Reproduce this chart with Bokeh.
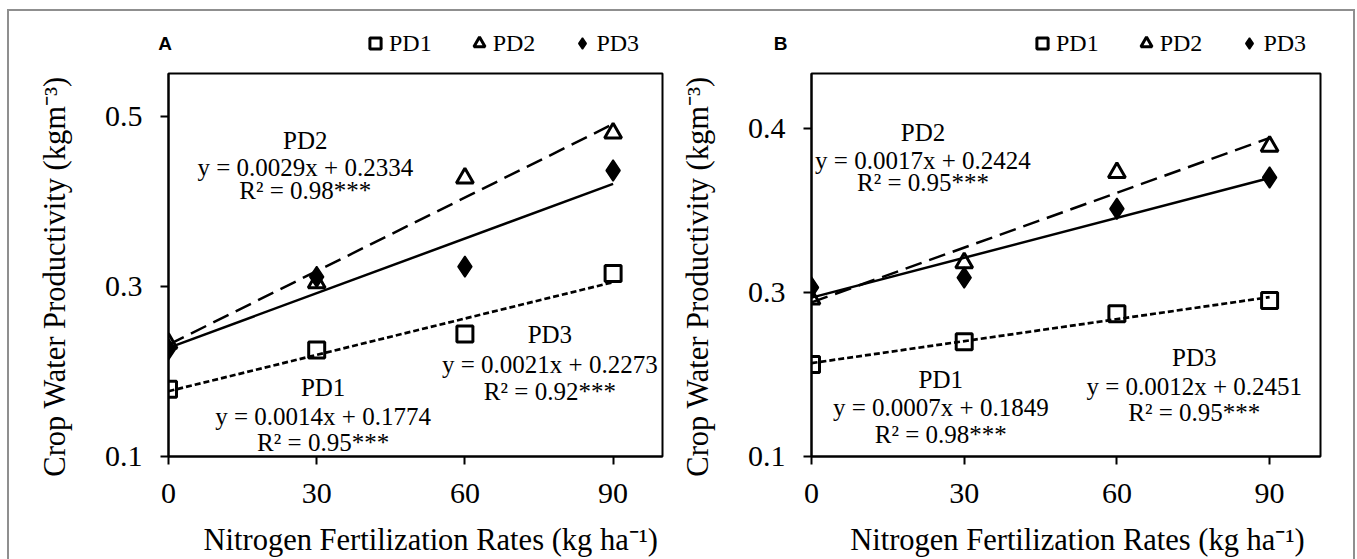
import numpy as np
from bokeh.plotting import figure
from bokeh.models import Label, Legend, LegendItem, FixedTicker, Range1d
from bokeh.layouts import row, column
from bokeh.embed import file_html
from bokeh.resources import INLINE

# ---------------- data ----------------
n_rates = [0, 30, 60, 90]
series_names = ["PD1", "PD2", "PD3"]

a_pd1 = [0.179, 0.225, 0.244, 0.315]
a_pd2 = [0.233, 0.304, 0.427, 0.480]
a_pd3 = [0.226, 0.311, 0.323, 0.436]

b_pd1 = [0.256, 0.270, 0.287, 0.295]
b_pd2 = [0.296, 0.318, 0.373, 0.389]
b_pd3 = [0.303, 0.309, 0.351, 0.370]

x_ticks = [0, 30, 60, 90]
a_y_ticks = [0.1, 0.3, 0.5]
a_y_labels = ["0.1", "0.3", "0.5"]
b_y_ticks = [0.2, 0.3, 0.4]
b_y_labels = ["0.1", "0.3", "0.4"]

a_texts = {
    "PD1": ["PD1", "y = 0.0014x + 0.1774", "R\u00b2 = 0.95***"],
    "PD2": ["PD2", "y = 0.0029x + 0.2334", "R\u00b2 = 0.98***"],
    "PD3": ["PD3", "y = 0.0021x + 0.2273", "R\u00b2 = 0.92***"],
}
b_texts = {
    "PD1": ["PD1", "y = 0.0007x + 0.1849", "R\u00b2 = 0.98***"],
    "PD2": ["PD2", "y = 0.0017x + 0.2424", "R\u00b2 = 0.95***"],
    "PD3": ["PD3", "y = 0.0012x + 0.2451", "R\u00b2 = 0.95***"],
}

x_title = "Nitrogen Fertilization Rates (kg ha\u207b\u00b9)"
y_title = "Crop Water Productivity (kgm\u207b\u00b3)"

SERIF = "Liberation Serif"
SANS = "Liberation Sans"
NBSP = "\u00a0"
HEAD_H = 58
FIG_H = 559 - HEAD_H
HOFF = 1000  # origin of the header's own coordinate system

MARKERS = [dict(marker="square", size=16, line_width=3, line_color="black", fill_alpha=0),
           dict(marker="triangle", size=17, line_width=3, line_color="black", fill_alpha=0),
           dict(marker="diamond", size=21, line_width=1.5, line_color="black",
                fill_color="black")]


def make_header(letter, width, letter_x, legend_x, series):
    h = figure(width=width, height=HEAD_H, output_backend="svg", toolbar_location=None,
               x_range=Range1d(HOFF, HOFF + width), y_range=Range1d(HOFF + HEAD_H, HOFF),
               x_axis_type=None, y_axis_type=None,
               min_border_left=0, min_border_right=0, min_border_top=0,
               min_border_bottom=0, border_fill_color=None,
               background_fill_color=None, outline_line_color=None)
    h.xgrid.visible = False
    h.ygrid.visible = False
    # same series as the panel (they fall outside this header's view; used for the key)
    rs = [h.scatter(n_rates, s, **m) for s, m in zip(series, MARKERS)]
    legend = Legend(items=[LegendItem(label=n, renderers=[r])
                           for n, r in zip(series_names, rs)],
                    location=(legend_x, 1), orientation="horizontal",
                    glyph_width=28, glyph_height=28, label_standoff=0, spacing=33,
                    padding=0, margin=0, border_line_color=None,
                    background_fill_alpha=0, label_text_color="black",
                    label_text_font=SERIF, label_text_font_size="24px")
    h.add_layout(legend, "center")
    h.add_layout(Label(x=HOFF + letter_x, y=HOFF + 43, text=letter, text_font=SANS,
                       text_font_style="bold", text_font_size="19px",
                       text_color="black", text_align="center", text_baseline="middle"))
    return h


def make_panel(series, texts, text_pos, y_rng, y_ticks, y_labels, width, fl, fr, xpad):
    p = figure(width=width, height=FIG_H, output_backend="svg", toolbar_location=None,
               x_range=Range1d(0, 100), y_range=Range1d(*y_rng),
               min_border_left=fl, min_border_right=fr,
               min_border_top=73 - HEAD_H, min_border_bottom=102,
               border_fill_color=None)
    p.xgrid.visible = False
    p.ygrid.visible = False
    p.outline_line_color = "black"
    p.outline_line_width = 2
    p.outline_line_alpha = 1

    xs = np.array(n_rates, dtype=float)
    styles = [("6 3", 2.7), ("17 8", 2.5), (None, 2.5)]
    for ys, (dash, lw) in zip(series, styles):
        k, b = np.polyfit(xs, np.array(ys), 1)
        xe = np.array([min(n_rates), max(n_rates)], dtype=float)
        if dash:
            p.line(xe, k * xe + b, line_color="black", line_width=lw, line_dash=dash)
        else:
            p.line(xe, k * xe + b, line_color="black", line_width=lw)

    for ys, m in zip(series, MARKERS):
        p.scatter(n_rates, ys, **m)

    for ax in (p.xaxis[0], p.yaxis[0]):
        ax.axis_line_width = 2
        ax.major_tick_line_width = 2
        ax.major_tick_out = 8
        ax.major_tick_in = 0
        ax.minor_tick_line_color = None
        ax.major_label_text_font = SERIF
        ax.major_label_text_font_size = "30px"
        ax.major_label_text_color = "black"
        ax.axis_label_text_font = SERIF
        ax.axis_label_text_font_size = "30.5px"
        ax.axis_label_text_font_style = "normal"
        ax.axis_label_text_color = "black"

    p.xaxis.ticker = FixedTicker(ticks=x_ticks)
    p.xaxis.major_label_standoff = 19
    p.xaxis.axis_label = NBSP * xpad + x_title
    p.xaxis.axis_label_standoff = 17

    p.yaxis.ticker = FixedTicker(ticks=y_ticks)
    p.yaxis.major_label_overrides = {t: l for t, l in zip(y_ticks, y_labels)}
    p.yaxis.major_label_standoff = 18
    p.yaxis.axis_label = y_title + NBSP * 3
    p.yaxis.axis_label_standoff = 30

    for name in series_names:
        cx, ys_ = text_pos[name]
        for line_txt, ty in zip(texts[name], ys_):
            p.add_layout(Label(x=cx, y=ty, text=line_txt, text_font=SERIF,
                               text_font_size="25px", text_align="center",
                               text_baseline="middle", text_color="black"))
    return p


a_pos = {
    "PD2": (27.7, [0.4716, 0.440, 0.412]),
    "PD1": (31.3, [0.181, 0.147, 0.1164]),
    "PD3": (77.2, [0.243, 0.208, 0.176]),
}
b_pos = {
    "PD2": (21.9, [0.3976, 0.3805, 0.3672]),
    "PD1": (25.4, [0.2468, 0.2298, 0.2134]),
    "PD3": (75.2, [0.2602, 0.2426, 0.2267]),
}

a_series = [a_pd1, a_pd2, a_pd3]
b_series = [b_pd1, b_pd2, b_pd3]

hA = make_header("A", 677, 164.5, 361, a_series)
hB = make_header("B", 680, 103, 351, b_series)
pA = make_panel(a_series, a_texts, a_pos, (0.1, 0.55),
                a_y_ticks, a_y_labels, 677, 168, 15, 4)
pB = make_panel(b_series, b_texts, b_pos, (0.2, 0.4334),
                b_y_ticks, b_y_labels, 680, 131, 37, 3)

g = "linear-gradient(#8f8f8f,#8f8f8f)"
bg = (f"{g} 7px 9px / 2px 600px no-repeat, "
      f"{g} 7px 9px / 1348px 2px no-repeat, "
      f"{g} 1353px 9px / 2px 600px no-repeat, #ffffff")
layout = column(row(hA, hB), row(pA, pB), styles={"background": bg})

open("out.html", "w").write(file_html(layout, INLINE))
